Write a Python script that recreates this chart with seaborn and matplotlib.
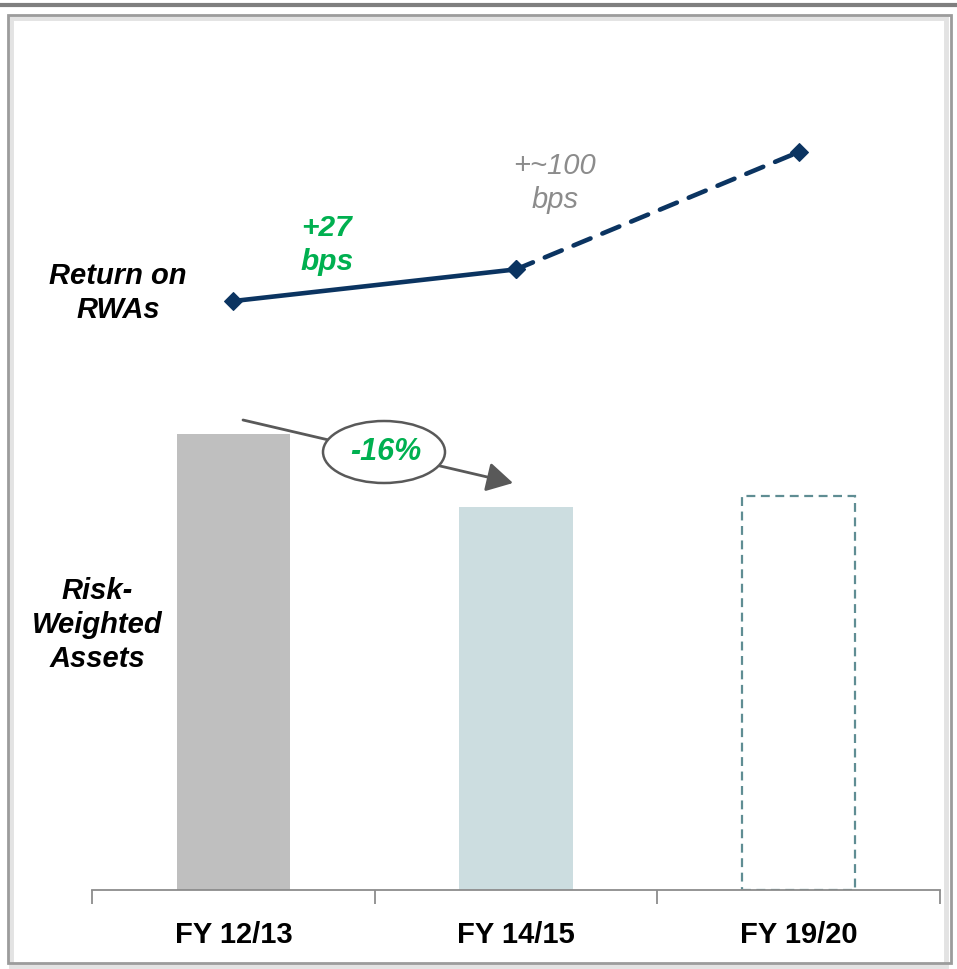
import matplotlib
matplotlib.use("Agg")
import matplotlib.pyplot as plt
import seaborn as sns
import pandas as pd
from matplotlib.patches import Ellipse, Rectangle
from matplotlib.lines import Line2D

# ---- data -------------------------------------------------------------
periods = ["FY 12/13", "FY 14/15", "FY 19/20"]
rwa_index = [100, 84, 86.5]        # risk-weighted assets, FY 12/13 = 100
ror_change_bps = [0, 27, 127]      # return on RWAs, change vs FY 12/13 (bps)
bar_colors = ["#BFBFBF", "#CCDDE0", "#FFFFFF"]

sns.set_style("white")
plt.rcParams["font.family"] = ["Liberation Sans", "DejaVu Sans"]

W, H = 957, 969
fig = plt.figure(figsize=(W / 100, H / 100), dpi=100)


def fx(px):
    return px / W


def fy(py):
    return 1 - py / H


# main axes: baseline at y=890 px, spans x 92..940 px
ax = fig.add_axes([fx(92), fy(890), fx(940) - fx(92), (890 - 20) / H])

df = pd.DataFrame({"period": periods, "rwa": rwa_index})
sns.barplot(data=df, x="period", y="rwa", hue="period", palette=bar_colors,
            width=0.4, legend=False, ax=ax, saturation=1, edgecolor="none")

# target year drawn as dashed outline
target = ax.patches[2]
target.set_facecolor("none")
target.set_edgecolor("#5F8D93")
target.set_linewidth(1.6)
target.set_linestyle((0, (4, 2.5)))

ax.set_xlim(-0.5, 2.5)
ax.set_ylim(0, 190.8)
ax.set_xlabel("")
ax.set_ylabel("")
ax.set_yticks([])
for s in ["top", "left", "right"]:
    ax.spines[s].set_visible(False)
ax.spines["bottom"].set_color("#8C8C8C")
ax.spines["bottom"].set_linewidth(1.3)
ax.set_xticks([0, 1, 2])
ax.set_xticklabels(periods, fontsize=21, fontweight="bold", color="black")
ax.tick_params(axis="x", which="major", length=0, pad=22, bottom=True)
ax.set_xticks([-0.5, 0.5, 1.5, 2.5], minor=True)
ax.tick_params(axis="x", which="minor", length=10, width=1.3, bottom=True,
               color="#8C8C8C", direction="out")

# return on RWAs on a twin scale
ax2 = ax.twinx()
navy = "#0B3461"
sns.lineplot(x=[0, 1], y=ror_change_bps[:2], ax=ax2, color=navy,
             linewidth=3.3, marker="D", markersize=9.5, markeredgecolor=navy)
sns.lineplot(x=[1, 2], y=ror_change_bps[1:], ax=ax2, color=navy,
             linewidth=3.3, marker="D", markersize=9.5, markeredgecolor=navy,
             linestyle=(0, (4, 2.8)), dash_capstyle="round")
ax2.set_ylim(-502.1, 239.6)
ax2.set_xlim(-0.5, 2.5)
ax2.set_yticks([])
ax2.set_ylabel("")
for s in ["top", "left", "right", "bottom"]:
    ax2.spines[s].set_visible(False)

green = "#00B050"
txt = dict(transform=fig.transFigure, ha="center", va="center",
           linespacing=1.28)

fig.text(fx(118), fy(293), "Return on\nRWAs", fontsize=21, fontweight="bold",
         style="italic", color="black", **txt)
fig.text(fx(97), fy(625), "Risk-\nWeighted\nAssets", fontsize=21,
         fontweight="bold", style="italic", color="black", **txt)
fig.text(fx(327), fy(245), "+27\nbps", fontsize=21.5, fontweight="bold",
         style="italic", color=green, **txt)
fig.text(fx(555), fy(183), "+~100\nbps", fontsize=21, style="italic",
         color="#8C8C8C", **txt)

# RWA reduction arrow with callout
ax2.annotate("", xy=(fx(513), fy(483)), xytext=(fx(243), fy(420)),
             xycoords="figure fraction", textcoords="figure fraction",
             arrowprops=dict(arrowstyle="-|>,head_length=0.8,head_width=0.45",
                             mutation_scale=20, lw=2, color="#595959",
                             shrinkA=0, shrinkB=0),
             zorder=5, annotation_clip=False)
ell = Ellipse((fx(384), fy(452)), 122 / W, 62 / H, transform=fig.transFigure,
              facecolor="white", edgecolor="#595959", linewidth=1.8,
              zorder=6, clip_on=False)
ax2.add_patch(ell)
ax2.text(fx(386), fy(452), "-16%", transform=fig.transFigure, ha="center",
         va="center", fontsize=22, fontweight="bold", style="italic",
         color=green, zorder=7)

# page frame
fig.add_artist(Line2D([0, 1], [fy(5), fy(5)], transform=fig.transFigure,
                      color="#7F7F7F", linewidth=3))
fig.add_artist(Rectangle((fx(11), fy(966)), fx(946) - fx(11),
                         (966 - 18) / H, transform=fig.transFigure,
                         fill=False, edgecolor="#E3E3E3", linewidth=3.5))
fig.add_artist(Rectangle((fx(8), fy(963)), fx(951) - fx(8),
                         (963 - 15) / H, transform=fig.transFigure,
                         fill=False, edgecolor="#9C9C9C", linewidth=2))

fig.savefig("out.png", dpi=100)
